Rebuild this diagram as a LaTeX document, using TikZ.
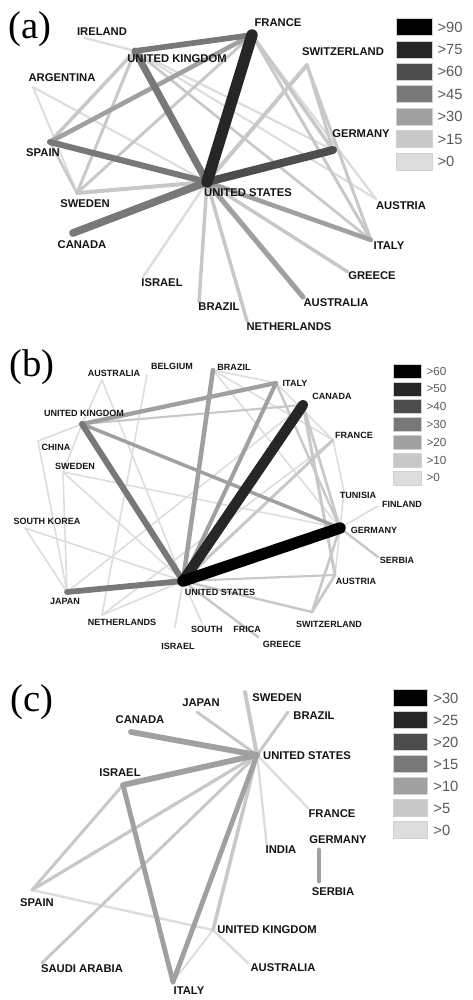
\documentclass[tikz,border=0pt]{standalone}
\usepackage{fontspec}
\setmainfont{Liberation Sans}
\newfontfamily\panelfont{Liberation Serif}
\usetikzlibrary{positioning}
\definecolor{g90}{HTML}{000000}
\definecolor{g75}{HTML}{262626}
\definecolor{g60}{HTML}{4D4D4D}
\definecolor{g45}{HTML}{787878}
\definecolor{g30}{HTML}{A0A0A0}
\definecolor{g15}{HTML}{C8C8C8}
\definecolor{g0}{HTML}{DDDDDD}

\begin{document}
\begin{tikzpicture}[x=0.03cm, y=-0.03cm, line cap=round, line join=round,
    ew/.style={line width=1.15*#1 pt},
    cname/.style={font={\bfseries\fontsize{9.6}{10}\selectfont}, text=black!92, inner sep=0pt},
    cnameb/.style={font={\bfseries\fontsize{7.7}{8}\selectfont}, text=black!92, inner sep=0pt},
    panel/.style={font={\panelfont\fontsize{33}{33}\selectfont}, inner sep=0pt},
    legbox/.style={draw=black!18, line width=0.5pt, inner sep=0pt},
    legtxt/.style={text=black!65, inner sep=0pt}]
  \useasboundingbox (0,0) rectangle (472,1000);

  % panel (a)
  \node[panel] (pa) at (30,29) {(a)};
  \coordinate (aUS) at (207,182); \coordinate (aFR) at (252,35);
  \coordinate (aUK) at (135,51);  \coordinate (aIE) at (85,38);
  \coordinate (aAR) at (33,87);   \coordinate (aES) at (50,142);
  \coordinate (aSE) at (77,193);  \coordinate (aCA) at (73,233);
  \coordinate (aCH) at (307,65);  \coordinate (aDE) at (333,150);
  \coordinate (aAT) at (376,199); \coordinate (aIT) at (371,240);
  \coordinate (aGR) at (348,272); \coordinate (aAU) at (303,297);
  \coordinate (aNL) at (247,321); \coordinate (aBR) at (199,302);
  \coordinate (aIL) at (143,277);
  \foreach \u/\v/\w in {aUS/aIL/1.8, aFR/aAT/1.7, aUK/aDE/1.7, aIE/aUK/1.7,
      aAR/aSE/1.4, aAR/aUS/1.6, aUK/aAT/1.6}
    \draw[g0, ew=\w] (\u) -- (\v);
  \foreach \u/\v/\w in {aUS/aSE/3.0, aUS/aCH/3.0, aUS/aGR/2.6, aUS/aNL/2.6,
      aUS/aBR/2.6, aFR/aDE/2.6, aFR/aIT/2.2, aCH/aDE/2.2, aCH/aIT/2.2,
      aUK/aES/2.6, aUK/aSE/2.2, aSE/aFR/2.2, aES/aSE/2.0, aUK/aIT/2.0}
    \draw[g15, ew=\w] (\u) -- (\v);
  \foreach \u/\v/\w in {aFR/aES/3.4, aUS/aIT/3.4, aUS/aAU/3.8}
    \draw[g30, ew=\w] (\u) -- (\v);
  \foreach \u/\v/\w in {aUS/aUK/5.2, aUS/aCA/5.7, aUS/aES/4.5, aFR/aUK/4.2}
    \draw[g45, ew=\w] (\u) -- (\v);
  \draw[g60, ew=6] (aUS) -- (aDE);
  \draw[g75, ew=8.5] (aUS) -- (aFR);
  \node[cname] (aFRt) at (278,23) {FRANCE};
  \node[cname] (aIEt) at (102,32) {IRELAND};
  \node[cname] (aUKt) at (177,59) {UNITED KINGDOM};
  \node[cname] (aCHt) at (343,52) {SWITZERLAND};
  \node[cname] (aARt) at (62,78) {ARGENTINA};
  \node[cname] (aESt) at (43,153) {SPAIN};
  \node[cname] (aDEt) at (361,134) {GERMANY};
  \node[cname] (aUSt) at (248,193) {UNITED STATES};
  \node[cname] (aSEt) at (85,204) {SWEDEN};
  \node[cname] (aATt) at (401,206) {AUSTRIA};
  \node[cname] (aCAt) at (82,245) {CANADA};
  \node[cname] (aITt) at (389,246) {ITALY};
  \node[cname] (aGRt) at (372,276) {GREECE};
  \node[cname] (aILt) at (162,283) {ISRAEL};
  \node[cname] (aAUt) at (336,303) {AUSTRALIA};
  \node[cname] (aBRt) at (219,307) {BRAZIL};
  \node[cname] (aNLt) at (289,327) {NETHERLANDS};
  \foreach \t/\c [count=\i from 0] in {>90/g90, >75/g75, >60/g60, >45/g45, >30/g30, >15/g15, >0/g0} {
    \node[legbox, fill=\c, minimum width=1.08cm, minimum height=0.51cm] (la\i) at (414,{27+22.4*\i}) {};
    \node[legtxt, font=\fontsize{12.6}{13}\selectfont, right=4.3pt of la\i] (lat\i) {\t};
  }

  % panel (b)
  \node[panel] (pb) at (32,367) {(b)};
  \coordinate (bUS) at (183,581); \coordinate (bUK) at (82,424);
  \coordinate (bAU) at (102,380); \coordinate (bBE) at (147,375);
  \coordinate (bBR) at (213,370); \coordinate (bIT) at (276,383);
  \coordinate (bCA) at (303,405); \coordinate (bFR) at (333,440);
  \coordinate (bTN) at (344,492); \coordinate (bFI) at (378,506);
  \coordinate (bDE) at (340,528); \coordinate (bRS) at (378,557);
  \coordinate (bAT) at (335,575); \coordinate (bCH) at (312,612);
  \coordinate (bGR) at (258,637); \coordinate (bZA) at (202,623);
  \coordinate (bIL) at (175,627); \coordinate (bNL) at (102,615);
  \coordinate (bJP) at (67,592);  \coordinate (bKR) at (25,528);
  \coordinate (bSE) at (63,472);  \coordinate (bCN) at (38,441);
  \foreach \u/\v in {bAU/bUK, bAU/bUS, bBE/bNL, bBR/bIT, bBR/bFR, bBR/bDE,
      bCN/bUK, bCN/bJP, bSE/bJP, bSE/bUS, bSE/bDE, bKR/bJP, bKR/bUS, bUK/bSE,
      bNL/bUS, bNL/bFR, bIL/bUS, bZA/bUS, bDE/bFI, bFR/bTN, bJP/bCA, bIT/bFR,
      bTN/bAT}
    \draw[g0, ew=1.2] (\u) -- (\v);
  \foreach \u/\v/\w in {bCA/bAT/2.2, bCA/bDE/2.0, bFR/bUS/2.2, bDE/bCH/2.0,
      bAT/bCH/2.0, bIT/bDE/1.8, bUS/bGR/1.8, bUS/bCH/1.8, bUS/bAT/1.6,
      bDE/bRS/1.8, bUK/bCA/1.6}
    \draw[g15, ew=\w] (\u) -- (\v);
  \foreach \u/\v/\w in {bUS/bBR/3.4, bUK/bIT/3.2, bUS/bIT/3.0, bUK/bDE/2.6}
    \draw[g30, ew=\w] (\u) -- (\v);
  \foreach \u/\v/\w in {bUS/bUK/4.5, bUS/bJP/4.3}
    \draw[g45, ew=\w] (\u) -- (\v);
  \draw[g75, ew=7.7] (bUS) -- (bCA);
  \draw[g90, ew=8.5] (bUS) -- (bDE);
  \node[cnameb] (bAUt) at (114,373) {AUSTRALIA};
  \node[cnameb] (bBEt) at (172,366) {BELGIUM};
  \node[cnameb] (bBRt) at (234,367) {BRAZIL};
  \node[cnameb] (bITt) at (295,383) {ITALY};
  \node[cnameb] (bCAt) at (332,396) {CANADA};
  \node[cnameb] (bUKt) at (84,413) {UNITED KINGDOM};
  \node[cnameb] (bFRt) at (354,435) {FRANCE};
  \node[cnameb] (bCNt) at (56,447) {CHINA};
  \node[cnameb] (bSEt) at (75,466) {SWEDEN};
  \node[cnameb] (bTNt) at (358,495) {TUNISIA};
  \node[cnameb] (bFIt) at (402,504) {FINLAND};
  \node[cnameb] (bKRt) at (47,521) {SOUTH KOREA};
  \node[cnameb] (bDEt) at (374,530) {GERMANY};
  \node[cnameb] (bRSt) at (397,560) {SERBIA};
  \node[cnameb] (bATt) at (356,581) {AUSTRIA};
  \node[cnameb] (bUSt) at (220,592) {UNITED STATES};
  \node[cnameb] (bJPt) at (65,601) {JAPAN};
  \node[cnameb] (bNLt) at (122,622) {NETHERLANDS};
  \node[cnameb] (bCHt) at (329,624) {SWITZERLAND};
  \node[cnameb] (bZAt) at (226,629) {SOUTH\hspace{3.2mm}FRICA};
  \node[cnameb] (bGRt) at (282,644) {GREECE};
  \node[cnameb] (bILt) at (178,646) {ISRAEL};
  \foreach \t/\c [count=\i from 0] in {>60/g90, >50/g75, >40/g60, >30/g45, >20/g30, >10/g15, >0/g0} {
    \node[legbox, fill=\c, minimum width=0.84cm, minimum height=0.42cm] (lb\i) at (407,{371+17.8*\i}) {};
    \node[legtxt, font=\fontsize{10}{11}\selectfont, right=4.3pt of lb\i] (lbt\i) {\t};
  }

  % panel (c)
  \node[panel] (pc) at (32,702) {(c)};
  \coordinate (cUS) at (257,755); \coordinate (cSE) at (245,692);
  \coordinate (cJP) at (197,712); \coordinate (cBR) at (288,712);
  \coordinate (cCA) at (131,732); \coordinate (cIL) at (123,785);
  \coordinate (cFR) at (308,808); \coordinate (cIN) at (267,847);
  \coordinate (cDE) at (319,850); \coordinate (cRS) at (319,881);
  \coordinate (cES) at (32,890);  \coordinate (cUK) at (213,930);
  \coordinate (cSA) at (42,963);  \coordinate (cIT) at (173,982);
  \coordinate (cAU) at (248,963);
  \foreach \u/\v/\w in {cUS/cFR/1.8, cUS/cIN/1.8, cES/cUK/1.8, cUK/cAU/1.8, cUK/cIT/1.4}
    \draw[g0, ew=\w] (\u) -- (\v);
  \foreach \u/\v/\w in {cUS/cSE/3.0, cUS/cJP/2.2, cUS/cBR/2.2, cUS/cUK/2.6,
      cUS/cES/2.4, cUS/cSA/2.2, cIL/cES/2.2}
    \draw[g15, ew=\w] (\u) -- (\v);
  \foreach \u/\v/\w in {cUS/cCA/4.3, cUS/cIL/4.3, cIL/cIT/3.6, cUS/cIT/3.6, cDE/cRS/3.6}
    \draw[g30, ew=\w] (\u) -- (\v);
  \node[cname] (cJPt) at (201,703) {JAPAN};
  \node[cname] (cSEt) at (277,698) {SWEDEN};
  \node[cname] (cBRt) at (314,716) {BRAZIL};
  \node[cname] (cCAt) at (140,720) {CANADA};
  \node[cname] (cUSt) at (307,756) {UNITED STATES};
  \node[cname] (cILt) at (120,773) {ISRAEL};
  \node[cname] (cFRt) at (332,814) {FRANCE};
  \node[cname] (cDEt) at (338,840) {GERMANY};
  \node[cname] (cINt) at (281,850) {INDIA};
  \node[cname] (cRSt) at (333,892) {SERBIA};
  \node[cname] (cESt) at (37,903) {SPAIN};
  \node[cname] (cUKt) at (267,930) {UNITED KINGDOM};
  \node[cname] (cSAt) at (82,969) {SAUDI ARABIA};
  \node[cname] (cAUt) at (283,968) {AUSTRALIA};
  \node[cname] (cITt) at (189,991) {ITALY};
  \foreach \t/\c [count=\i from 0] in {>30/g90, >25/g75, >20/g60, >15/g45, >10/g30, >5/g15, >0/g0} {
    \node[legbox, fill=\c, minimum width=1.02cm, minimum height=0.51cm] (lc\i) at (410,{698+22*\i}) {};
    \node[legtxt, font=\fontsize{12.6}{13}\selectfont, right=5pt of lc\i] (lct\i) {\t};
  }
\end{tikzpicture}
\end{document}
